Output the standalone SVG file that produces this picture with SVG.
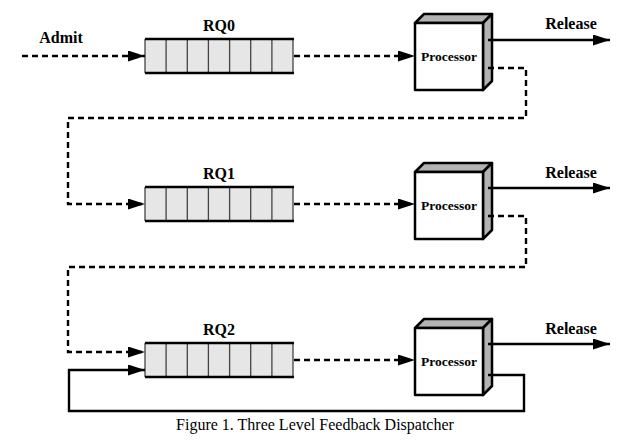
<svg xmlns="http://www.w3.org/2000/svg" width="628" height="443" viewBox="0 0 628 443">
<style>
.lbl{font-family:"Liberation Serif","Times New Roman",serif;font-weight:bold;fill:#000}
.q{fill:#e6e6e6;stroke:none}
.qe{stroke:#000;stroke-width:2.5;fill:none}
.qd{stroke:#444;stroke-width:1.3;fill:none}
.face{fill:#fff;stroke:#000;stroke-width:2.5;stroke-linejoin:round}
.side{fill:#b3b3b3;stroke:#000;stroke-width:2.5;stroke-linejoin:round}
.dash{fill:none;stroke:#000;stroke-width:2.4;stroke-dasharray:6 4}
.solid{fill:none;stroke:#000;stroke-width:2.4}
</style>
<defs>
<marker id="ah" markerUnits="userSpaceOnUse" markerWidth="18" markerHeight="12" refX="17" refY="5.5" orient="auto">
<path d="M0,0 L17,5.5 L0,11 z" fill="#000" stroke="none"/>
</marker>
<g id="queue">
<rect class="q" x="0" y="0" width="148" height="34"/>
<path class="qd" d="M0,0 V34 M21.1,0 V34 M42.3,0 V34 M63.4,0 V34 M84.6,0 V34 M105.7,0 V34 M126.9,0 V34 M148,0 V34"/>
<path class="qe" d="M0,0 H149 M0,34 H149"/>
</g>
<g id="proc">
<polygon class="side" points="0,0 9,-9 77,-9 68,0"/>
<polygon class="side" points="68,0 77,-9 77,58 68,67"/>
<rect class="face" x="0" y="0" width="68" height="67"/>
<text class="lbl" x="34" y="37.5" font-size="13.5" text-anchor="middle">Processor</text>
</g>
</defs>

<text class="lbl" x="61" y="43" font-size="16" text-anchor="middle">Admit</text>

<g id="rq0">
<use href="#queue" x="145" y="39"/>
<text class="lbl" x="219" y="30.5" font-size="16" text-anchor="middle">RQ0</text>
</g>
<g id="rq1">
<use href="#queue" x="145" y="187"/>
<text class="lbl" x="219" y="178.5" font-size="16" text-anchor="middle">RQ1</text>
</g>
<g id="rq2">
<use href="#queue" x="145" y="343"/>
<text class="lbl" x="219" y="334.5" font-size="16" text-anchor="middle">RQ2</text>
</g>

<g id="p0"><use href="#proc" x="415" y="23"/></g>
<g id="p1"><use href="#proc" x="415" y="172"/></g>
<g id="p2"><use href="#proc" x="415" y="328"/></g>

<text class="lbl" x="571" y="29" font-size="16" text-anchor="middle">Release</text>
<text class="lbl" x="571" y="178" font-size="16" text-anchor="middle">Release</text>
<text class="lbl" x="571" y="334" font-size="16" text-anchor="middle">Release</text>

<g id="connectors">
<path class="dash" d="M22,56 H145" marker-end="url(#ah)"/>
<path class="dash" d="M294,56 H415" marker-end="url(#ah)"/>
<path class="solid" d="M488,40 H610" marker-end="url(#ah)"/>
<path class="dash" d="M488,68 H526 V118 H68 V204 H145" marker-end="url(#ah)"/>
<path class="dash" d="M294,204 H415" marker-end="url(#ah)"/>
<path class="solid" d="M488,188 H610" marker-end="url(#ah)"/>
<path class="dash" d="M488,216 H526 V267 H68 V352 H145" marker-end="url(#ah)"/>
<path class="dash" d="M294,360 H415" marker-end="url(#ah)"/>
<path class="solid" d="M488,344 H610" marker-end="url(#ah)"/>
<path class="solid" d="M488,375 H524 V411 H69 V370 H145" marker-end="url(#ah)"/>
</g>

<text x="315" y="430" font-family="Liberation Serif,'Times New Roman',serif" font-size="16" text-anchor="middle" fill="#000">Figure 1. Three Level Feedback Dispatcher</text>
</svg>
